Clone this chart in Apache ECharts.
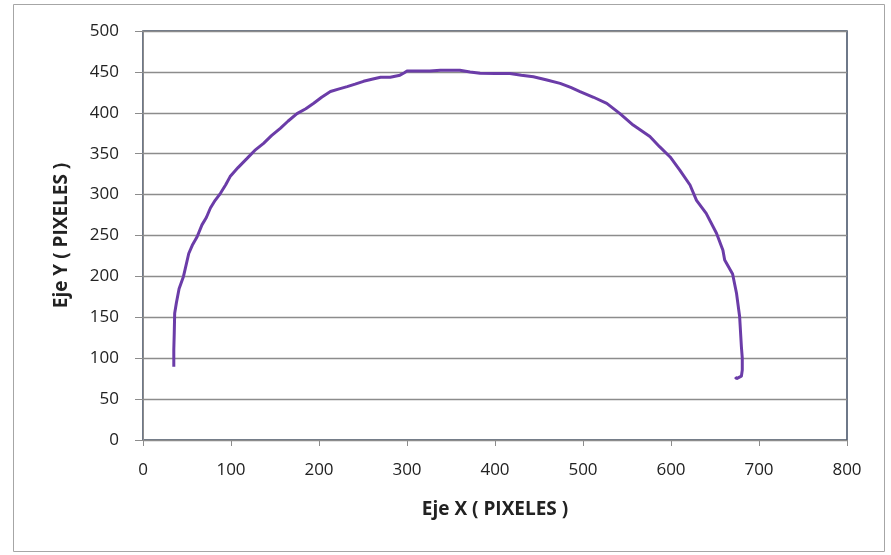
<!DOCTYPE html>
<html>
<head>
<meta charset="utf-8">
<script src="https://cdn.jsdelivr.net/npm/echarts@6/dist/echarts.min.js"></script>
<style>html,body{margin:0;padding:0;background:#fff}#c{width:891px;height:555px}</style>
</head>
<body>
<div id="c"></div>
<script>
var xs = [35,35,35.5,36,38,41,46,52,56,61.5,67,72,76.6,82,88,94,99,108,118,127,137,146,156,165,175,185,194,203,213,222,232,241,250.6,260,270,281,292,297,300,313,326,338,350,360,371.7,383,400,417,430,443.6,459,474,486,496.6,512,527,542,557,576,587,599,610,621.6,629,640,651.7,659,661,670,674.5,678,680,681,681,680,674.5,673];
var ys = [89.6,110,130,155,168,185,200,228,238,248.5,263,272,283.6,293,301.6,312,322,333,344,354,362.7,372,381,390,399,405,411.6,419,426,429,432,435,438.5,441,443.5,443.5,446,449,451,451,451,452,452,452,450,448.3,448,448,446,444,440,436,431,426,419,411.6,399,385,371,358.6,346,330,311.7,293,277,252.7,232,220,203,179,150.7,114,100,85.6,78,75,77];
var xTicks = [0,100,200,300,400,500,600,700,800];
var yTicks = [0,50,100,150,200,250,300,350,400,450,500];

var pts = xs.map(function(x,i){return [x, ys[i]];});
var font = '"Open Sans", "Noto Sans", sans-serif';
var chart = echarts.init(document.getElementById('c'), null, {renderer:'canvas'});
chart.setOption({
  animation:false,
  backgroundColor:'#fff',
  graphic:[{type:'rect', shape:{x:13.5,y:4.5,width:871,height:547}, style:{fill:'none', stroke:'#a6a6a6', lineWidth:1}, z:-1}],
  grid:{left:143, right:44, top:31, bottom:115, show:true, borderColor:'#3f4c63', borderWidth:1.5, backgroundColor:'transparent'},
  xAxis:{type:'value', min:xTicks[0], max:xTicks[xTicks.length-1], interval:100,
    name:'Eje X ( PIXELES )', nameLocation:'middle', nameGap:60,
    nameTextStyle:{fontFamily:font, fontWeight:'bold', fontSize:19, color:'#222'},
    axisLine:{show:true, onZero:false, lineStyle:{color:'#8c8c8c', width:1}},
    axisTick:{show:true, length:6, lineStyle:{color:'#8c8c8c'}},
    axisLabel:{fontFamily:font, fontSize:17, color:'#222', margin:22},
    splitLine:{show:false}},
  yAxis:{type:'value', min:yTicks[0], max:yTicks[yTicks.length-1], interval:50,
    name:'Eje Y ( PIXELES )', nameLocation:'middle', nameGap:72, nameRotate:90,
    nameTextStyle:{fontFamily:font, fontWeight:'bold', fontSize:19, color:'#222'},
    axisLine:{show:true, onZero:false, lineStyle:{color:'#8c8c8c', width:1}},
    axisTick:{show:true, length:8, lineStyle:{color:'#8c8c8c'}},
    axisLabel:{fontFamily:font, fontSize:17, color:'#222', margin:24},
    splitLine:{show:true, lineStyle:{color:'#8c8c8c', width:1.3}}},
  series:[{type:'line', data:pts, showSymbol:false, smooth:false,
    lineStyle:{color:'#6b3ca8', width:3}}]
});
</script>
</body>
</html>
